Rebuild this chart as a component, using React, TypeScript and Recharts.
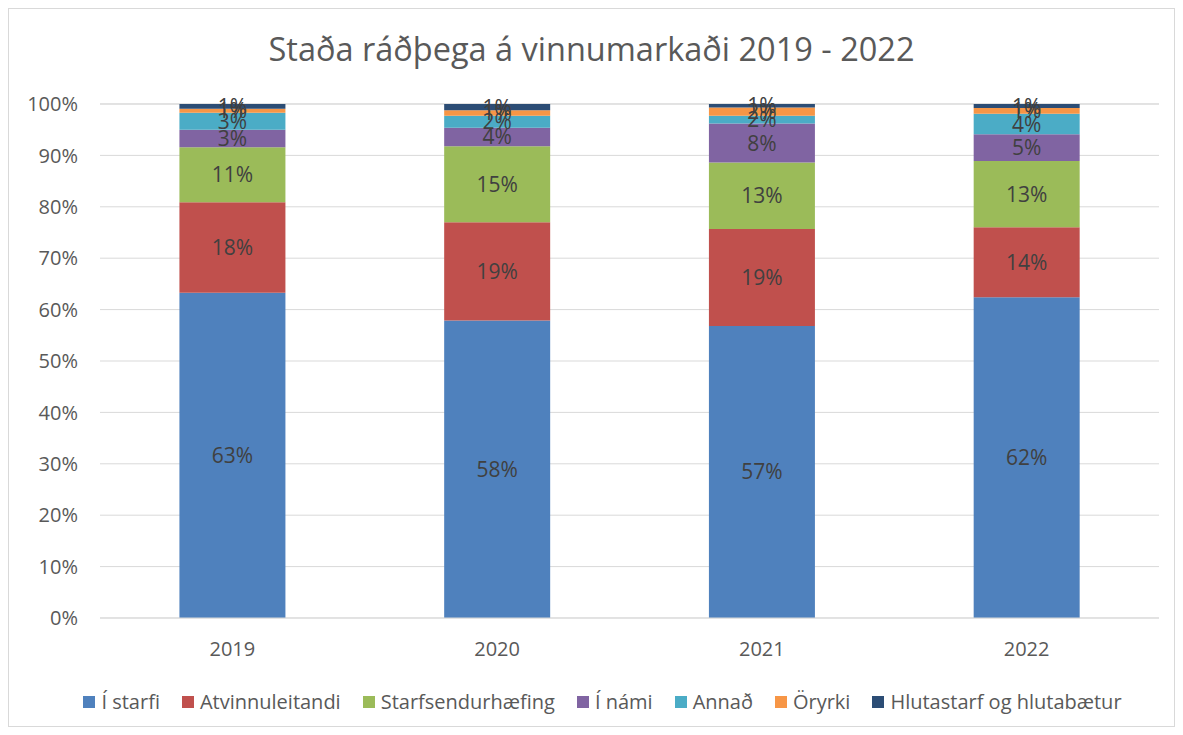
import React from 'react';
import { BarChart, Bar, XAxis, YAxis, CartesianGrid, Legend, LabelList } from 'recharts';

const years = ['2019', '2020', '2021', '2022'];
const iStarfi = [63.3, 57.9, 56.8, 62.4];
const atvinnuleitandi = [17.6, 19.1, 18.9, 13.6];
const starfsendurhaefing = [10.7, 14.8, 12.9, 12.9];
const iNami = [3.4, 3.6, 7.6, 5.2];
const annad = [3.3, 2.3, 1.5, 4.0];
const oryrki = [0.8, 1.1, 1.6, 1.1];
const hlutastarf = [0.9, 1.2, 0.7, 0.8];
const yTicks = [0, 10, 20, 30, 40, 50, 60, 70, 80, 90, 100];

const seriesDefs = [
  { key: 'Í starfi', values: iStarfi, color: '#4F81BD' },
  { key: 'Atvinnuleitandi', values: atvinnuleitandi, color: '#C0504D' },
  { key: 'Starfsendurhæfing', values: starfsendurhaefing, color: '#9BBB59' },
  { key: 'Í námi', values: iNami, color: '#8064A2' },
  { key: 'Annað', values: annad, color: '#4BACC6' },
  { key: 'Öryrki', values: oryrki, color: '#F79646' },
  { key: 'Hlutastarf og hlutabætur', values: hlutastarf, color: '#2C4D75' },
];

const data = years.map((y, i) => {
  const row: Record<string, any> = { year: y };
  seriesDefs.forEach((s) => { row[s.key] = s.values[i]; });
  return row;
});

const FONT = '"Open Sans", sans-serif';

const renderLegend = () => (
  <div style={{ display: 'flex', justifyContent: 'center', gap: 22, paddingLeft: 38, fontSize: 20, fontFamily: FONT, color: '#595959' }}>
    {seriesDefs.map((s) => (
      <div key={s.key} style={{ display: 'flex', alignItems: 'center', gap: 6 }}>
        <span style={{ display: 'inline-block', width: 12, height: 12, background: s.color }} />
        <span>{s.key}</span>
      </div>
    ))}
  </div>
);

export default function App() {
  return (
    <div style={{ position: 'relative', width: 1167, height: 719, fontFamily: FONT }}>
      <div style={{ position: 'absolute', left: 0, top: 0, width: 1165, height: 717, border: '1px solid #d9d9d9', pointerEvents: 'none' }} />
      <div style={{ position: 'absolute', left: 0, top: 18, width: 1167, textAlign: 'center', fontSize: 32.5, color: '#595959' }}>
        Staða ráðþega á vinnumarkaði 2019 - 2022
      </div>
      <BarChart
        width={1167}
        height={719}
        data={data}
        margin={{ top: 96, right: 16, left: 0, bottom: 42 }}
        barCategoryGap="30%"
      >
        <CartesianGrid vertical={false} stroke="#d9d9d9" />
        <XAxis dataKey="year" tickLine={false} axisLine={{ stroke: '#d9d9d9' }} tick={{ fill: '#595959', fontSize: 20, fontFamily: FONT }} tickMargin={18} height={40} />
        <YAxis domain={[0, 100]} ticks={yTicks} tickFormatter={(v) => `${v}%`} axisLine={false} tickLine={false} width={92} tick={{ fill: '#595959', fontSize: 20, fontFamily: FONT }} tickMargin={16} />
        <Legend verticalAlign="bottom" content={renderLegend} wrapperStyle={{ bottom: 12 }} />
        {seriesDefs.map((s) => (
          <Bar key={s.key} dataKey={s.key} stackId="a" fill={s.color} isAnimationActive={false}>
            <LabelList dataKey={s.key} position="center" formatter={(v: any) => `${Math.round(Number(v))}%`} fill="#404040" fontSize={21} fontFamily={FONT} />
          </Bar>
        ))}
      </BarChart>
    </div>
  );
}
